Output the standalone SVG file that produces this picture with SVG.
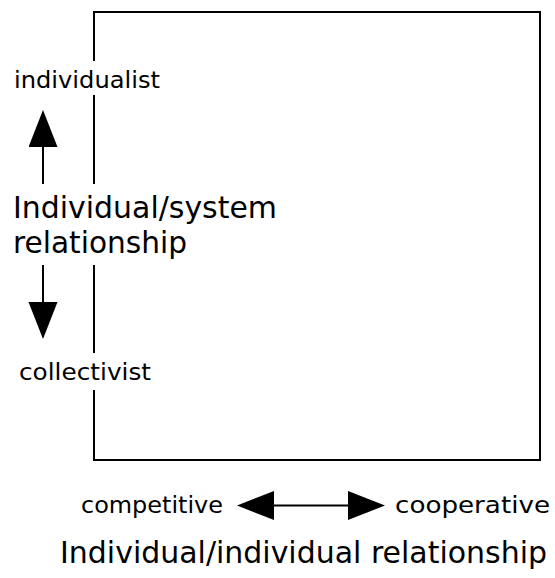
<svg xmlns="http://www.w3.org/2000/svg" width="555" height="578" viewBox="0 0 555 578">
<style>
.lbl{font-family:"DejaVu Sans","Liberation Sans",sans-serif;fill:#000}
.s{font-size:23px}
.l{font-size:31px}
.b{font-size:30px}
.ln{stroke:#000;stroke-width:2;fill:none}
</style>
<defs>
<marker id="ah" markerUnits="userSpaceOnUse" markerWidth="38" markerHeight="30" refX="0" refY="14.5" orient="auto-start-reverse" viewBox="0 0 38 30">
<path d="M0,0 L37,14.5 L0,29 z" fill="#000"/>
</marker>
</defs>
<rect width="555" height="578" fill="#fff"/>
<g id="box">
<path class="ln" d="M94,61 V12 H540 V460 H94 V390 M94,353 V265 M94,184 V95"/>
</g>
<g id="connectors">
<line class="ln" x1="43" y1="184" x2="43" y2="147" marker-end="url(#ah)"/>
<line class="ln" x1="43" y1="265" x2="43" y2="302" marker-end="url(#ah)"/>
<line class="ln" x1="274" y1="505.5" x2="348" y2="505.5" marker-start="url(#ah)" marker-end="url(#ah)"/>
</g>
<g id="individualist"><text class="lbl s" x="14" y="88" textLength="146" lengthAdjust="spacingAndGlyphs">individualist</text></g>
<g id="ind-system"><text class="lbl l" x="13" y="218" textLength="264" lengthAdjust="spacingAndGlyphs">Individual/system</text>
<text class="lbl l" x="13" y="253" textLength="174" lengthAdjust="spacingAndGlyphs">relationship</text></g>
<g id="collectivist"><text class="lbl s" x="19" y="380" textLength="132" lengthAdjust="spacingAndGlyphs">collectivist</text></g>
<g id="competitive"><text class="lbl s" x="81" y="513" textLength="142" lengthAdjust="spacingAndGlyphs">competitive</text></g>
<g id="cooperative"><text class="lbl s" x="395" y="513" textLength="155" lengthAdjust="spacingAndGlyphs">cooperative</text></g>
<g id="ind-ind"><text class="lbl b" x="60" y="563" textLength="487" lengthAdjust="spacingAndGlyphs">Individual/individual relationship</text></g>
</svg>
